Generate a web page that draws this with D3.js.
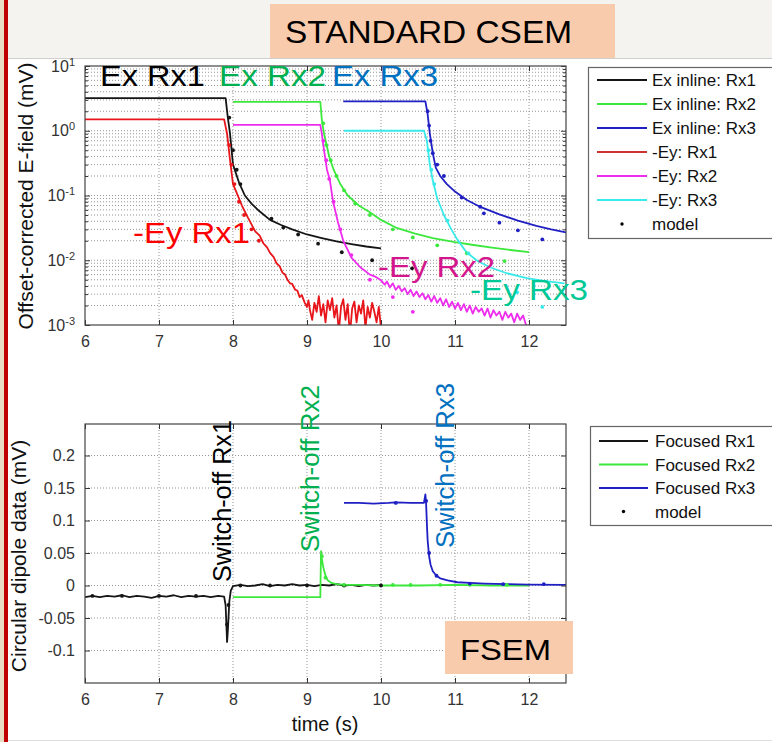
<!DOCTYPE html>
<html>
<head>
<meta charset="utf-8">
<script src="https://cdn.jsdelivr.net/npm/d3@7"></script>
<style>
  body { margin: 0; background: #fff; }
  svg { display: block; font-family: "Liberation Sans", Arial, sans-serif; }
  .grid line { stroke: #959595; stroke-width: 1; stroke-dasharray: 1,2; }
</style>
</head>
<body>
<svg id="chart" width="772" height="742"></svg>
<script>
// ---- values ----
const xTicks = [6, 7, 8, 9, 10, 11, 12];
const logTicks = [1e-3, 1e-2, 1e-1, 1, 10];
const linTicks = [-0.1, -0.05, 0, 0.05, 0.1, 0.15, 0.2];

// top panel: [time (s), field (mV)]
const exRx1 = [[6.0,3.2],[7.9,3.2],[7.93,1.6],[7.96,0.9],[8.0,0.3],[8.08,0.16],[8.16,0.1],[8.25,0.075],[8.35,0.058],[8.5,0.042],[8.65,0.035],[8.8,0.03],[9.0,0.025],[9.2,0.022],[9.4,0.0195],[9.6,0.0178],[9.8,0.0163],[10.0,0.0152]];
const exRx2 = [[8.0,2.8],[9.18,2.8],[9.2,1.5],[9.23,0.9],[9.3,0.4],[9.36,0.25],[9.45,0.15],[9.55,0.1],[9.7,0.07],[9.85,0.055],[10.0,0.042],[10.2,0.032],[10.45,0.026],[10.7,0.022],[11.0,0.019],[11.25,0.0172],[11.5,0.0157],[11.75,0.0144],[12.0,0.0133]];
const exRx3 = [[9.49,2.85],[10.6,2.85],[10.63,1.8],[10.66,0.9],[10.7,0.45],[10.74,0.27],[10.8,0.2],[10.89,0.15],[11.0,0.115],[11.16,0.085],[11.35,0.066],[11.6,0.051],[11.85,0.041],[12.1,0.034],[12.3,0.03],[12.5,0.027]];
const eyRx1 = [[6.0,1.5],[7.88,1.5],[7.92,0.9],[7.96,0.35],[8.0,0.15],[8.05,0.11],[8.12,0.07],[8.2,0.046],[8.3,0.028],[8.36,0.024],[8.41,0.0183],[8.46,0.0158],[8.5,0.013],[8.55,0.0112],[8.59,0.0089],[8.63,0.0081],[8.67,0.0064],[8.7,0.0061],[8.74,0.0049],[8.77,0.0044],[8.8,0.0043],[8.84,0.0035],[8.87,0.0034],[8.9,0.0027],[8.93,0.0029],[8.97,0.0022],[9.0,0.0019],[9.02,0.0024],[9.04,0.0017],[9.07,0.0012],[9.1,0.0022],[9.13,0.0016],[9.16,0.0028],[9.19,0.0014],[9.22,0.0021],[9.25,0.0011],[9.28,0.0024],[9.31,0.0017],[9.34,0.0026],[9.37,0.0013],[9.4,0.002],[9.43,0.0008],[9.46,0.0019],[9.49,0.0025],[9.52,0.0012],[9.55,0.0021],[9.58,0.0007],[9.61,0.0018],[9.64,0.0023],[9.67,0.0011],[9.7,0.002],[9.73,0.0015],[9.76,0.0024],[9.79,0.0009],[9.82,0.0019],[9.85,0.0013],[9.88,0.0022],[9.91,0.0016],[9.94,0.0011],[9.97,0.0019],[10.0,0.0009]];
const eyRx2 = [[8.0,1.23],[9.18,1.23],[9.2,0.9],[9.23,0.5],[9.27,0.25],[9.31,0.17],[9.35,0.083],[9.42,0.038],[9.49,0.02],[9.6,0.011],[9.72,0.0078],[9.85,0.006],[9.92,0.0056],[10.0,0.0049],[10.05,0.0042],[10.08,0.0047],[10.12,0.0038],[10.16,0.0044],[10.2,0.0035],[10.24,0.004],[10.28,0.0033],[10.32,0.0037],[10.36,0.003],[10.4,0.0035],[10.44,0.0028],[10.48,0.0033],[10.52,0.0027],[10.56,0.0031],[10.6,0.0025],[10.64,0.0029],[10.68,0.0023],[10.72,0.0028],[10.76,0.0022],[10.8,0.0026],[10.84,0.002],[10.88,0.0025],[10.92,0.0019],[10.96,0.0023],[11.0,0.0018],[11.04,0.0022],[11.08,0.0017],[11.12,0.0021],[11.16,0.0016],[11.2,0.002],[11.24,0.0015],[11.28,0.0019],[11.32,0.0016],[11.36,0.0018],[11.4,0.0014],[11.44,0.0018],[11.48,0.0013],[11.52,0.0017],[11.56,0.0014],[11.6,0.0016],[11.64,0.0012],[11.68,0.0016],[11.72,0.0013],[11.76,0.0015],[11.8,0.0011],[11.84,0.0015],[11.88,0.0012],[11.92,0.0014],[11.96,0.001],[12.0,0.0009]];
const eyRx3 = [[9.5,1.0],[10.58,1.0],[10.62,0.7],[10.66,0.3],[10.7,0.17],[10.76,0.09],[10.85,0.05],[10.95,0.03],[11.03,0.021],[11.15,0.0135],[11.3,0.0098],[11.47,0.0078],[11.7,0.0063],[11.97,0.0053],[12.2,0.0048],[12.48,0.0044]];

const exRx1Model = [[7.95,1.6],[8.0,0.5],[8.05,0.25],[8.1,0.15],[8.52,0.044],[8.68,0.032],[8.88,0.025],[9.15,0.018],[9.47,0.0133],[9.88,0.01],[10.42,0.0075]];
const exRx2Model = [[9.22,1.3],[9.26,0.6],[9.32,0.35],[9.4,0.2],[9.5,0.12],[9.65,0.075],[9.85,0.05],[10.16,0.03],[10.43,0.0225],[10.76,0.017],[11.16,0.0128],[11.67,0.0097]];
const exRx3Model = [[10.63,2.0],[10.65,1.2],[10.67,0.7],[10.7,0.45],[10.76,0.3],[10.85,0.2],[11.09,0.093],[11.34,0.067],[11.39,0.053],[11.6,0.038],[11.85,0.029],[12.18,0.021]];
const eyRx1Model = [[7.95,0.6],[7.98,0.3],[8.02,0.15],[8.08,0.08],[8.15,0.05],[8.25,0.03],[8.35,0.02]];
const eyRx2Model = [[9.22,0.7],[9.26,0.35],[9.3,0.18],[9.36,0.08],[9.45,0.03],[9.6,0.012],[9.85,0.005],[10.16,0.0027],[10.43,0.0016]];
const eyRx3Model = [[10.64,0.5],[10.68,0.25],[10.72,0.15],[10.9,0.041],[11.18,0.0128],[11.84,0.0032],[12.18,0.0019]];

// bottom panel: [time (s), circular dipole (mV)]
const focRx1 = [[6.0,-0.018],[6.1,-0.016],[6.2,-0.018],[6.3,-0.016],[6.4,-0.017],[6.5,-0.015],[6.6,-0.018],[6.7,-0.016],[6.8,-0.017],[6.9,-0.019],[7.0,-0.016],[7.1,-0.017],[7.2,-0.015],[7.3,-0.018],[7.4,-0.016],[7.5,-0.017],[7.6,-0.016],[7.7,-0.018],[7.8,-0.016],[7.88,-0.017],[7.9,-0.03],[7.92,-0.087],[7.93,-0.07],[7.95,-0.025],[7.97,-0.008],[8.0,-0.001],[8.1,0.001],[8.2,-0.001],[8.3,0.0],[8.4,0.002],[8.5,-0.001],[8.6,0.001],[8.7,0.0],[8.8,0.002],[8.9,0.0],[9.0,0.001],[9.1,-0.001],[9.2,0.001],[9.3,0.0],[9.4,0.002],[9.5,0.0],[9.6,0.001],[9.7,-0.001],[9.8,0.001],[9.9,0.0],[10.0,0.001]];
const focRx2 = [[8.0,-0.018],[9.18,-0.018],[9.185,0.02],[9.19,0.053],[9.2,0.042],[9.22,0.028],[9.25,0.015],[9.28,0.008],[9.33,0.004],[9.4,0.002],[9.5,0.001],[9.7,0.001],[10.0,0.0],[10.5,0.0],[11.0,0.001],[11.5,0.0],[12.0,0.0]];
const focRx3 = [[9.5,0.127],[9.7,0.127],[9.9,0.126],[10.1,0.127],[10.2,0.128],[10.4,0.127],[10.58,0.127],[10.6,0.14],[10.61,0.125],[10.62,0.095],[10.63,0.07],[10.65,0.045],[10.67,0.032],[10.7,0.022],[10.75,0.015],[10.8,0.011],[10.9,0.008],[11.03,0.005],[11.2,0.004],[11.4,0.003],[11.7,0.002],[12.0,0.0015],[12.5,0.001]];

const focRx1Model = [[6.1,-0.016],[6.5,-0.016],[7.0,-0.016],[7.5,-0.016],[7.92,-0.06],[7.94,-0.03],[8.1,0.0],[8.5,0.0],[9.0,0.0],[9.5,0.0],[10.0,0.0]];
const focRx2Model = [[9.2,0.045],[9.25,0.012],[9.5,0.001],[10.16,0.001],[10.4,0.001],[10.8,0.001],[11.2,0.001],[11.7,0.001]];
const focRx3Model = [[10.2,0.127],[10.61,0.13],[10.65,0.05],[10.75,0.015],[11.2,0.003],[11.65,0.002],[12.2,0.002]];

const topLegend = ['Ex inline: Rx1', 'Ex inline: Rx2', 'Ex inline: Rx3', '-Ey: Rx1', '-Ey: Rx2', '-Ey: Rx3', 'model'];
const botLegend = ['Focused Rx1', 'Focused Rx2', 'Focused Rx3', 'model'];

// ---- styles ----
const cBlack = '#151515', cGreen = '#3ce83c', cBlue = '#1f1fc4',
      cRed = '#e8151a', cMag = '#ee2cee', cCyan = '#38eaea';

const svg = d3.select('#chart');
const W = 772, H = 742;

// slide background
svg.append('rect').attr('width', W).attr('height', H).attr('fill', '#fff');
svg.append('rect').attr('width', W).attr('height', 58).attr('fill', '#f5f3f0');
svg.append('line').attr('x1', 8).attr('x2', W).attr('y1', 58.5).attr('y2', 58.5).attr('stroke', '#cfcfcf');
svg.append('line').attr('x1', 8).attr('x2', W).attr('y1', 740.5).attr('y2', 740.5).attr('stroke', '#dedede');
svg.append('rect').attr('width', 4).attr('height', H).attr('fill', '#e9dcc5');
svg.append('rect').attr('x', 4).attr('width', 4).attr('height', H).attr('fill', '#c00000');

// title box
svg.append('rect').attr('x', 270).attr('y', 4).attr('width', 345).attr('height', 54).attr('fill', '#f8cbad');
svg.append('text').attr('x', 285).attr('y', 43).attr('font-size', 31).attr('textLength', 287)
  .attr('lengthAdjust', 'spacingAndGlyphs').text('STANDARD CSEM');

function panel(id, box) {
  const g = svg.append('g');
  g.append('clipPath').attr('id', id).append('rect')
    .attr('x', box.l).attr('y', box.t).attr('width', box.r - box.l).attr('height', box.b - box.t);
  g.append('rect').attr('x', box.l).attr('y', box.t).attr('width', box.r - box.l)
    .attr('height', box.b - box.t).attr('fill', '#fff');
  return g;
}

function drawGrid(g, x, y, box, yGrid) {
  const grid = g.append('g').attr('class', 'grid');
  grid.selectAll('.gx').data(xTicks.slice(1)).join('line').attr('class', 'gx')
    .attr('x1', d => x(d)).attr('x2', d => x(d)).attr('y1', box.t).attr('y2', box.b);
  grid.selectAll('.gy').data(yGrid).join('line').attr('class', 'gy')
    .attr('x1', box.l).attr('x2', box.r).attr('y1', d => y(d)).attr('y2', d => y(d));
}

function drawSeries(g, id, x, y, lines, dots) {
  const line = d3.line().x(d => x(d[0])).y(d => y(d[1]));
  const body = g.append('g').attr('clip-path', `url(#${id})`);
  lines.forEach(s => {
    body.append('path').datum(s.data).attr('d', line).attr('fill', 'none')
      .attr('stroke', s.color).attr('stroke-width', 1.8).attr('stroke-linejoin', 'round');
  });
  dots.forEach(s => {
    body.selectAll(null).data(s.data).join('circle')
      .attr('cx', d => x(d[0])).attr('cy', d => y(d[1])).attr('r', 1.9).attr('fill', s.color);
  });
}

function drawAxes(g, x, y, box, yTicks, yMinor) {
  const fix = a => a.call(s => s.select('.domain').remove())
    .attr('font-size', 16).attr('font-family', null).style('color', '#333');
  g.append('g').attr('transform', `translate(0,${box.b})`)
    .call(d3.axisBottom(x).tickValues(xTicks).tickSize(-5).tickSizeOuter(0).tickPadding(11).tickFormat(d3.format('d')))
    .call(fix);
  g.append('g').attr('transform', `translate(0,${box.t})`)
    .call(d3.axisTop(x).tickValues(xTicks).tickSize(-5).tickSizeOuter(0).tickFormat(() => ''))
    .call(fix);
  const left = g.append('g').attr('transform', `translate(${box.l},0)`)
    .call(d3.axisLeft(y).tickValues(yTicks).tickSize(-5).tickSizeOuter(0).tickPadding(10))
    .call(fix);
  g.append('g').attr('transform', `translate(${box.r},0)`)
    .call(d3.axisRight(y).tickValues(yTicks).tickSize(-5).tickSizeOuter(0).tickFormat(() => ''))
    .call(fix);
  if (yMinor) {
    g.append('g').attr('transform', `translate(${box.l},0)`)
      .call(d3.axisLeft(y).tickValues(yMinor).tickSize(-3).tickSizeOuter(0).tickFormat(() => '')).call(fix);
    g.append('g').attr('transform', `translate(${box.r},0)`)
      .call(d3.axisRight(y).tickValues(yMinor).tickSize(-3).tickSizeOuter(0).tickFormat(() => '')).call(fix);
  }
  g.append('rect').attr('x', box.l).attr('y', box.t).attr('width', box.r - box.l)
    .attr('height', box.b - box.t).attr('fill', 'none').attr('stroke', '#444').attr('stroke-width', 1.2);
  return left;
}

function drawLegend(box, rows, labels, colors) {
  const g = svg.append('g');
  g.append('rect').attr('x', box.x).attr('y', box.y).attr('width', box.w).attr('height', box.h)
    .attr('fill', '#fff').attr('stroke', '#666').attr('stroke-width', 1.2);
  labels.forEach((lab, i) => {
    const yy = rows.y0 + i * rows.step;
    if (lab === 'model') {
      g.append('circle').attr('cx', (rows.x1 + rows.x2) / 2).attr('cy', yy).attr('r', 1.7).attr('fill', '#000');
    } else {
      g.append('line').attr('x1', rows.x1).attr('x2', rows.x2).attr('y1', yy).attr('y2', yy)
        .attr('stroke', colors[i]).attr('stroke-width', 1.8);
    }
    g.append('text').attr('x', rows.tx).attr('y', yy).attr('dy', '0.36em')
      .attr('font-size', 17).attr('fill', '#111').text(lab);
  });
}

function bigLabel(txt, x, y, color, len, rotate) {
  const t = svg.append('text').attr('font-size', rotate ? 25 : 29).attr('fill', color).text(txt);
  if (rotate) {
    t.attr('transform', `translate(${x},${y}) rotate(-90)`).attr('textLength', len).attr('lengthAdjust', 'spacingAndGlyphs');
  } else {
    t.attr('x', x).attr('y', y).attr('textLength', len).attr('lengthAdjust', 'spacingAndGlyphs');
  }
}

// ================= top panel =================
const topBox = { l: 85, r: 566, t: 66, b: 325 };
const x1 = d3.scaleLinear().domain([6, 12.5]).range([topBox.l, topBox.r]);
const y1 = d3.scaleLog().domain([1e-3, 10]).range([topBox.b, topBox.t]);
const logMinor = [];
logTicks.slice(0, -1).forEach(d => { for (let m = 2; m <= 9; m++) logMinor.push(d * m); });

const gTop = panel('clipTop', topBox);
drawGrid(gTop, x1, y1, topBox, logTicks.slice(1, -1).concat(logMinor));
drawSeries(gTop, 'clipTop', x1, y1,
  [{ data: exRx1, color: cBlack }, { data: exRx2, color: cGreen }, { data: exRx3, color: cBlue },
   { data: eyRx1, color: cRed }, { data: eyRx2, color: cMag }, { data: eyRx3, color: cCyan }],
  [{ data: exRx1Model, color: cBlack }, { data: exRx2Model, color: cGreen }, { data: exRx3Model, color: cBlue },
   { data: eyRx1Model, color: cRed }, { data: eyRx2Model, color: cMag }, { data: eyRx3Model, color: cCyan }]);
const leftTop = drawAxes(gTop, x1, y1, topBox, logTicks, logMinor);
leftTop.selectAll('.tick text').each(function (d) {
  const e = Math.round(Math.log10(d));
  const t = d3.select(this).text('10');
  t.append('tspan').attr('dy', '-0.55em').attr('font-size', 11).text(e);
});

svg.append('text').attr('transform', 'translate(33,196) rotate(-90)').attr('text-anchor', 'middle')
  .attr('font-size', 21).attr('fill', '#111').text('Offset-corrected E-field (mV)');

drawLegend({ x: 588.5, y: 67.5, w: 200, h: 171 }, { y0: 80, step: 24, x1: 597, x2: 647, tx: 652 },
  topLegend, [cBlack, cGreen, cBlue, '#cc3333', cMag, cCyan, '#000']);

bigLabel('Ex Rx1', 100, 86, '#000', 105);
bigLabel('Ex Rx2', 219, 86, '#00b050', 107);
bigLabel('Ex Rx3', 332, 86, '#0070c0', 106);
bigLabel('-Ey Rx1', 133, 243, '#ff0000', 117);
bigLabel('-Ey Rx2', 378, 277, '#d4168c', 117);
bigLabel('-Ey Rx3', 470, 300, '#00c896', 118);

// ================= bottom panel =================
const botBox = { l: 85, r: 566, t: 424, b: 683 };
const x2 = d3.scaleLinear().domain([6, 12.5]).range([botBox.l, botBox.r]);
const y2 = d3.scaleLinear().domain([-0.15, 0.25]).range([683, 423]);

const gBot = panel('clipBot', botBox);
drawGrid(gBot, x2, y2, botBox, linTicks);
drawSeries(gBot, 'clipBot', x2, y2,
  [{ data: focRx1, color: cBlack }, { data: focRx2, color: cGreen }, { data: focRx3, color: cBlue }],
  [{ data: focRx1Model, color: cBlack }, { data: focRx2Model, color: cGreen }, { data: focRx3Model, color: cBlue }]);
const leftBot = drawAxes(gBot, x2, y2, botBox, linTicks, null);
leftBot.selectAll('.tick text').text(d => d === 0 ? '0' : String(d));

svg.append('text').attr('transform', 'translate(26,556) rotate(-90)').attr('text-anchor', 'middle')
  .attr('font-size', 21).attr('fill', '#111').text('Circular dipole data (mV)');
svg.append('text').attr('x', 325).attr('y', 731).attr('text-anchor', 'middle')
  .attr('font-size', 20).attr('fill', '#111').text('time (s)');

drawLegend({ x: 590.5, y: 426.5, w: 200, h: 99 }, { y0: 441, step: 23.5, x1: 599, x2: 648, tx: 655 },
  botLegend, [cBlack, cGreen, cBlue, '#000']);

bigLabel('Switch-off Rx1', 231, 582, '#000', 162, true);
bigLabel('Switch-off Rx2', 319, 552, '#00b050', 167, true);
bigLabel('Switch-off Rx3', 454, 548, '#0070c0', 165, true);

// FSEM box
svg.append('rect').attr('x', 445).attr('y', 621).attr('width', 128).attr('height', 53).attr('fill', '#f8cbad');
svg.append('text').attr('x', 460).attr('y', 660).attr('font-size', 30).attr('textLength', 91)
  .attr('lengthAdjust', 'spacingAndGlyphs').text('FSEM');
</script>
</body>
</html>
